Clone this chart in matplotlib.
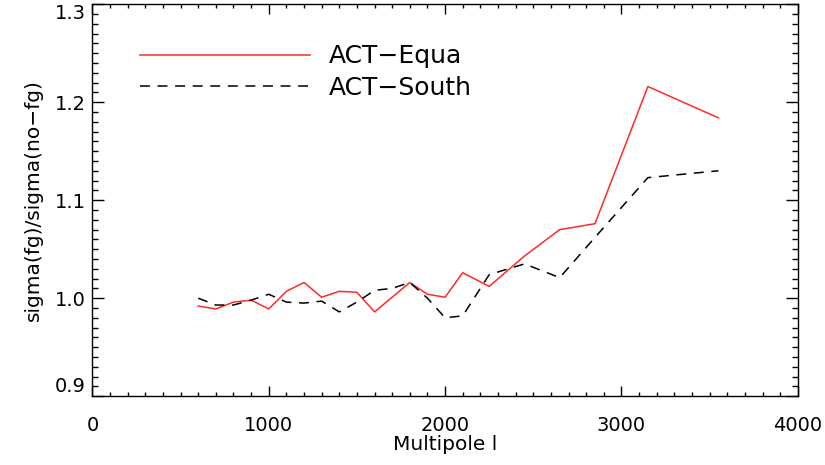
import matplotlib
matplotlib.use("Agg")
import matplotlib.pyplot as plt
from matplotlib.ticker import MultipleLocator, FormatStrFormatter

equa_l = [600, 700, 800, 900, 1000, 1100, 1200, 1300, 1400, 1500, 1600, 1800,
          1900, 2000, 2100, 2250, 2450, 2650, 2850, 3150, 3550]
equa_r = [0.992, 0.989, 0.996, 0.998, 0.989, 1.007, 1.016, 1.001, 1.007, 1.006,
          0.986, 1.016, 1.004, 1.001, 1.026, 1.012, 1.043, 1.070, 1.076, 1.216, 1.184]

south_l = [600, 700, 800, 900, 1000, 1100, 1200, 1300, 1400, 1500, 1600, 1700,
           1800, 1900, 2000, 2100, 2250, 2450, 2650, 2850, 3150, 3550]
south_r = [1.000, 0.993, 0.993, 0.998, 1.004, 0.996, 0.995, 0.997, 0.986, 0.996,
           1.008, 1.010, 1.016, 1.000, 0.980, 0.982, 1.024, 1.035, 1.021, 1.062,
           1.123, 1.130]

fig = plt.figure(figsize=(8.25, 4.65), dpi=100)
ax = fig.add_axes([0.112, 0.148, 0.855, 0.843])

ax.plot(equa_l, equa_r, color="#ff2a2a", lw=1.1, label="ACT\u2212Equa")
ln, = ax.plot(south_l, south_r, color="black", lw=1.1, label="ACT\u2212South")
ln.set_dashes([6.5, 5])

ax.set_xlim(0, 4000)
ax.set_ylim(0.9, 1.3)
ax.xaxis.set_major_locator(MultipleLocator(1000))
ax.xaxis.set_minor_locator(MultipleLocator(100))
ax.yaxis.set_major_locator(MultipleLocator(0.1))
ax.yaxis.set_minor_locator(MultipleLocator(0.01))
ax.yaxis.set_major_formatter(FormatStrFormatter("%.1f"))
ax.tick_params(which="both", direction="in", top=True, right=True, width=1.0,
               labelsize=14)
ax.tick_params(axis="x", which="major", length=7.5, pad=14)
ax.tick_params(axis="x", which="minor", length=3)
ax.tick_params(axis="y", which="major", length=8.6, pad=5)
ax.tick_params(axis="y", which="minor", length=4.3)
for s in ax.spines.values():
    s.set_linewidth(1.0)

ax.set_xlabel("Multipole l", fontsize=14.5)
ax.xaxis.set_label_coords(0.5, -0.098)
ax.set_ylabel("sigma(fg)/sigma(no\u2212fg)", fontsize=14.5, labelpad=8)

leg = ax.legend(loc="upper left", bbox_to_anchor=(0.035, 0.955), frameon=False,
                fontsize=18, handlelength=6.8, handletextpad=0.75,
                labelspacing=0.3)

fig.canvas.draw()
yt = ax.yaxis.get_major_ticks()
yl = ax.get_yticks()
for t, v in zip(yt, yl):
    if abs(v - 0.9) < 1e-6:
        t.label1.set_va("bottom")
    elif abs(v - 1.3) < 1e-6:
        t.label1.set_va("top")

fig.savefig("out.png", dpi=100)
